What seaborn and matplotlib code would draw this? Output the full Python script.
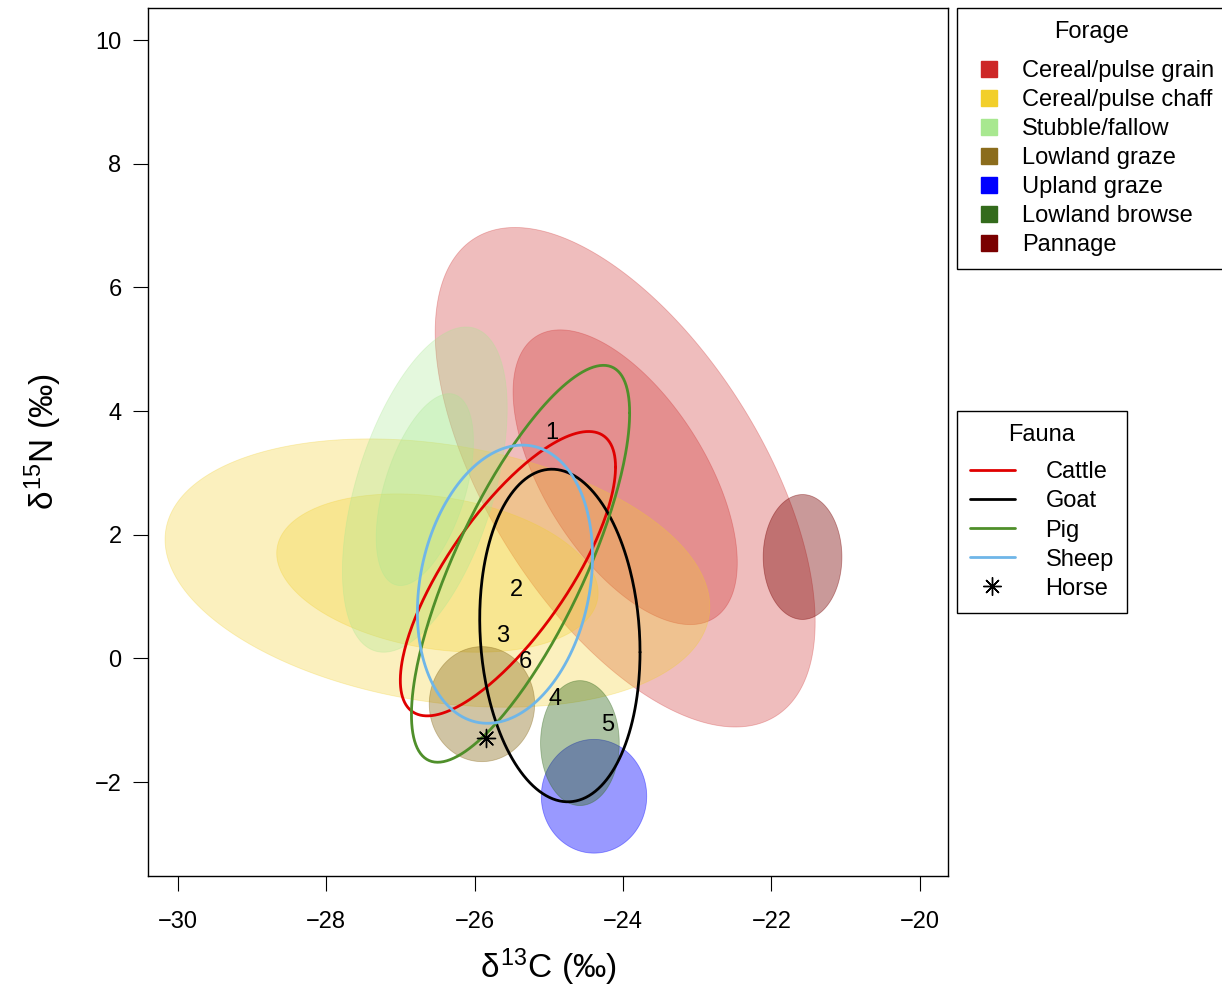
import numpy as np
import pandas as pd
import matplotlib
matplotlib.use("Agg")
import matplotlib.pyplot as plt
from matplotlib.lines import Line2D
import seaborn as sns

# Forage ellipses: centre, half-extent in x and y, correlation (tilt)
forage_names = ['Cereal/pulse grain', 'Cereal/pulse chaff', 'Stubble/fallow',
                'Lowland graze', 'Upland graze', 'Lowland browse', 'Pannage']
forage_colors = ['#cd2626', '#f2cf2a', '#a8e890', '#8b6c1c', '#0000ff', '#336b1c', '#7a0000']
forage_cx = [-23.97, -26.50, -26.67, -25.90, -24.39, -24.58, -21.58]
forage_cy = [2.93, 1.38, 2.73, -0.74, -2.23, -1.37, 1.64]
forage_sx = [2.56, 3.67, 1.11, 0.71, 0.71, 0.53, 0.53]
forage_sy = [4.04, 2.17, 2.63, 0.93, 0.92, 1.01, 1.01]
forage_rho = [-0.58, -0.25, 0.50, 0.0, 0.0, 0.0, 0.0]
forage_inner = [True, True, True, False, False, False, False]
inner_scale = 0.59

# Fauna ellipses
fauna_names = ['Cattle', 'Goat', 'Pig', 'Sheep']
fauna_colors = ['#e00000', '#000000', '#4f8f2a', '#6fb6e8']
fauna_cx = [-25.55, -24.85, -25.38, -25.59]
fauna_cy = [1.37, 0.37, 1.53, 1.20]
fauna_sx = [1.45, 1.08, 1.47, 1.18]
fauna_sy = [2.30, 2.69, 3.21, 2.25]
fauna_rho = [0.75, -0.10, 0.76, 0.20]

# Individual sample labels and the horse
label_text = ['1', '2', '3', '6', '4', '5']
label_x = [-24.96, -25.43, -25.62, -25.31, -24.91, -24.20]
label_y = [3.65, 1.10, 0.37, -0.06, -0.66, -1.08]
horse_x = [-25.85]
horse_y = [-1.28]


def ellipse(cx, cy, sx, sy, rho, n=300):
    t = np.linspace(0, 2 * np.pi, n)
    x = cx + sx * np.cos(t)
    y = cy + sy * (rho * np.cos(t) + np.sqrt(1 - rho ** 2) * np.sin(t))
    return x, y


sns.set_style("ticks")
plt.rcParams['font.family'] = ['Liberation Sans', 'DejaVu Sans']
plt.rcParams['mathtext.fontset'] = 'custom'
plt.rcParams['mathtext.rm'] = 'Liberation Sans'
plt.rcParams['mathtext.it'] = 'Liberation Sans'
plt.rcParams['text.color'] = 'black'
plt.rcParams['axes.labelcolor'] = 'black'
plt.rcParams['xtick.color'] = 'black'
plt.rcParams['ytick.color'] = 'black'

fig = plt.figure(figsize=(12.22, 9.94), dpi=100)
ax = fig.add_axes([148 / 1222, 118 / 994, 800 / 1222, 868 / 994])

# forage fills
for i, name in enumerate(forage_names):
    c = forage_colors[i]
    alpha = 0.3 if forage_inner[i] else 0.4
    x, y = ellipse(forage_cx[i], forage_cy[i], forage_sx[i], forage_sy[i], forage_rho[i])
    ax.fill(x, y, color=c, alpha=alpha, lw=0.6, zorder=1)
    if forage_inner[i]:
        x, y = ellipse(forage_cx[i], forage_cy[i], forage_sx[i] * inner_scale,
                       forage_sy[i] * inner_scale, forage_rho[i])
        ax.fill(x, y, color=c, alpha=alpha, lw=0.6, zorder=1)

# fauna outlines
for i, name in enumerate(fauna_names):
    x, y = ellipse(fauna_cx[i], fauna_cy[i], fauna_sx[i], fauna_sy[i], fauna_rho[i])
    df = pd.DataFrame({'x': x, 'y': y})
    sns.lineplot(data=df, x='x', y='y', sort=False, estimator=None,
                 color=fauna_colors[i], lw=2.0, ax=ax, zorder=3)

sns.scatterplot(x=horse_x, y=horse_y, marker=(8, 2, 0), s=170, color='black',
                linewidth=1.0, ax=ax, zorder=4)

for t, x, y in zip(label_text, label_x, label_y):
    ax.text(x, y, t, fontsize=17, ha='center', va='center', zorder=5)

ax.set_xlim(-30.4, -19.62)
ax.set_ylim(-3.52, 10.52)
ax.set_xticks([-30, -28, -26, -24, -22, -20])
ax.set_yticks([-2, 0, 2, 4, 6, 8, 10])
ax.set_xticklabels(['\u221230', '\u221228', '\u221226', '\u221224', '\u221222', '\u221220'])
ax.set_yticklabels(['\u22122', '0', '2', '4', '6', '8', '10'])
ax.tick_params(labelsize=17, length=11, width=0.8, direction='out')
ax.tick_params(axis='x', pad=14)
ax.tick_params(axis='y', pad=8)
for s in ax.spines.values():
    s.set_linewidth(1.0)
    s.set_color('black')
    s.set_visible(True)
ax.set_xlabel(r'$\delta^{13}$C (‰)', fontsize=24, labelpad=10)
ax.set_ylabel(r'$\delta^{15}$N (‰)', fontsize=24, labelpad=22)

forage_handles = [Line2D([], [], marker='s', linestyle='', markersize=12, color=c)
                  for c in forage_colors]
leg1 = fig.legend(forage_handles, forage_names, title='Forage', loc='upper left',
                  bbox_to_anchor=(957 / 1222, 1 - 8 / 994), borderaxespad=0,
                  fontsize=17, title_fontsize=17,
                  frameon=True, fancybox=False, edgecolor='black', framealpha=1,
                  labelspacing=0.3, handletextpad=0.6, borderpad=0.55, handlelength=1.6)
leg1.get_frame().set_linewidth(1.0)
leg1._legend_box.sep = 0.3 * 17 + 7

fauna_handles = [Line2D([], [], color=c, lw=2.0) for c in fauna_colors]
fauna_handles.append(Line2D([], [], marker=(8, 2, 0), linestyle='', markersize=13,
                            color='black', markeredgewidth=1.0))
leg2 = fig.legend(fauna_handles, fauna_names + ['Horse'], title='Fauna', loc='upper left',
                  bbox_to_anchor=(957 / 1222, 1 - 411 / 994), borderaxespad=0,
                  fontsize=17, title_fontsize=17,
                  frameon=True, fancybox=False, edgecolor='black', framealpha=1,
                  labelspacing=0.3, handletextpad=1.3, borderpad=0.55, handlelength=1.9)
leg2.get_frame().set_linewidth(1.0)
leg2._legend_box.sep = 0.3 * 17 + 6

fig.savefig('out.png', dpi=100)
